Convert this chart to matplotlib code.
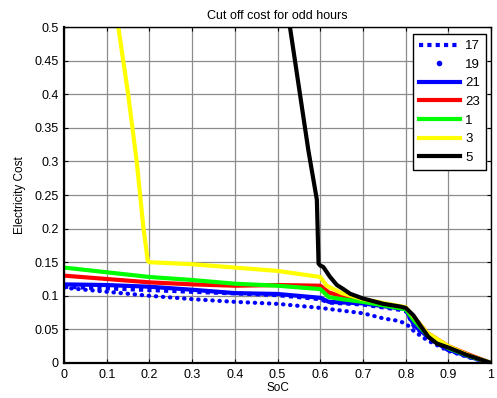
import matplotlib
matplotlib.use("Agg")
import matplotlib.pyplot as plt
from matplotlib.lines import Line2D

plt.rcParams['font.family'] = ['Liberation Sans', 'DejaVu Sans']

# cut off cost vs state of charge, one curve per odd hour
x17 = [0, 0.1, 0.2, 0.3, 0.4, 0.5, 0.6, 0.62, 0.7, 0.8, 0.82, 0.85, 0.9, 0.95, 1.0]
y17 = [0.1135, 0.111, 0.1086, 0.106, 0.1036, 0.101, 0.095, 0.09, 0.087, 0.078, 0.054, 0.039, 0.019, 0.009, 0.0]

x19 = [0, 0.1, 0.2, 0.3, 0.4, 0.5, 0.6, 0.7, 0.75, 0.78, 0.8, 0.82, 0.85, 0.9, 0.95, 1.0]
y19 = [0.112, 0.106, 0.100, 0.095, 0.091, 0.088, 0.082, 0.074, 0.066, 0.063, 0.059, 0.047, 0.034, 0.018, 0.008, 0.0]

x21 = [0, 0.1, 0.2, 0.3, 0.4, 0.5, 0.6, 0.62, 0.7, 0.8, 0.82, 0.85, 0.9, 0.95, 1.0]
y21 = [0.117, 0.116, 0.1135, 0.109, 0.104, 0.1027, 0.097, 0.091, 0.0887, 0.080, 0.056, 0.040, 0.020, 0.009, 0.0]

x23 = [0, 0.1, 0.2, 0.3, 0.4, 0.5, 0.6, 0.62, 0.65, 0.7, 0.8, 0.82, 0.85, 0.9, 0.95, 1.0]
y23 = [0.130, 0.125, 0.120, 0.117, 0.115, 0.116, 0.115, 0.105, 0.099, 0.094, 0.082, 0.068, 0.045, 0.025, 0.012, 0.0]

x1 = [0, 0.1, 0.2, 0.3, 0.4, 0.5, 0.6, 0.62, 0.65, 0.7, 0.8, 0.82, 0.85, 0.9, 0.95, 1.0]
y1 = [0.142, 0.135, 0.128, 0.1235, 0.118, 0.115, 0.110, 0.098, 0.095, 0.091, 0.080, 0.063, 0.042, 0.022, 0.010, 0.0]

x3 = [0.127, 0.15, 0.17, 0.186, 0.196, 0.2, 0.3, 0.4, 0.5, 0.6, 0.615, 0.65, 0.7, 0.8, 0.82, 0.85, 0.9, 0.95, 1.0]
y3 = [0.5, 0.4, 0.3, 0.2, 0.152, 0.150, 0.147, 0.142, 0.137, 0.128, 0.115, 0.104, 0.095, 0.083, 0.068, 0.045, 0.025, 0.011, 0.0]

x5 = [0.529, 0.572, 0.592, 0.596, 0.600, 0.607, 0.623, 0.639, 0.654, 0.670, 0.70, 0.748, 0.787, 0.80,
      0.818, 0.834, 0.853, 0.873, 0.904, 0.943, 1.0]
y5 = [0.5, 0.317, 0.243, 0.148, 0.145, 0.143, 0.128, 0.116, 0.110, 0.103, 0.096, 0.088, 0.084, 0.082,
      0.071, 0.056, 0.039, 0.029, 0.022, 0.012, 0.0]

hour_labels = ['17', '19', '21', '23', '1', '3', '5']
xticks = [0, 0.1, 0.2, 0.3, 0.4, 0.5, 0.6, 0.7, 0.8, 0.9, 1]
xtick_labels = ['0', '0.1', '0.2', '0.3', '0.4', '0.5', '0.6', '0.7', '0.8', '0.9', '1']
yticks = [0, 0.05, 0.1, 0.15, 0.2, 0.25, 0.3, 0.35, 0.4, 0.45, 0.5]
ytick_labels = ['0', '0.05', '0.1', '0.15', '0.2', '0.25', '0.3', '0.35', '0.4', '0.45', '0.5']

fig = plt.figure(figsize=(4.97, 3.98), dpi=100)
ax = fig.add_axes([0.129, 0.088, 0.859, 0.844])

lw = 3
ax.plot(x17, y17, color='b', lw=lw, linestyle=(0, (1, 1)))
ax.plot(x19, y19, color='b', lw=lw, linestyle=(0, (0.1, 1.6)), dash_capstyle='round')
ax.plot(x21, y21, color='b', lw=lw)
ax.plot(x23, y23, color='r', lw=lw)
ax.plot(x1, y1, color=(0, 1, 0), lw=lw)
ax.plot(x3, y3, color=(1, 1, 0), lw=lw)
ax.plot(x5, y5, color='k', lw=lw)

ax.set_xlim(0, 1)
ax.set_ylim(0, 0.5)
ax.set_xticks(xticks)
ax.set_xticklabels(xtick_labels)
ax.set_yticks(yticks)
ax.set_yticklabels(ytick_labels)
ax.tick_params(direction='in', top=True, right=True, labelsize=9, length=3, pad=4)
ax.grid(True, color='#8c8c8c', lw=0.9)
ax.set_axisbelow(True)
for s in ax.spines.values():
    s.set_linewidth(1.0)
ax.spines['left'].set_linewidth(1.6)
ax.spines['bottom'].set_linewidth(1.6)

ax.set_title('Cut off cost for odd hours', fontsize=9, pad=6)
ax.set_xlabel('SoC', fontsize=8.5, labelpad=1)
ax.set_ylabel('Electricity Cost', fontsize=8.5, labelpad=6)

# legend handles: 17 dotted, 19 a single dot, the rest solid
handles = [
    Line2D([], [], color='b', lw=lw, linestyle=(0, (1, 1))),
    Line2D([], [], color='b', linestyle='none', marker='.', markersize=6),
    Line2D([], [], color='b', lw=lw),
    Line2D([], [], color='r', lw=lw),
    Line2D([], [], color=(0, 1, 0), lw=lw),
    Line2D([], [], color=(1, 1, 0), lw=lw),
    Line2D([], [], color='k', lw=lw),
]
leg = ax.legend(handles, hour_labels, loc='upper right', bbox_to_anchor=(0.988, 0.979),
                borderaxespad=0, fontsize=9.5, handlelength=3.1, labelspacing=0.48,
                handletextpad=0.4, fancybox=False, framealpha=1, edgecolor='k',
                borderpad=0.45)
leg.get_frame().set_linewidth(1.0)

fig.savefig('out.png', dpi=100)
